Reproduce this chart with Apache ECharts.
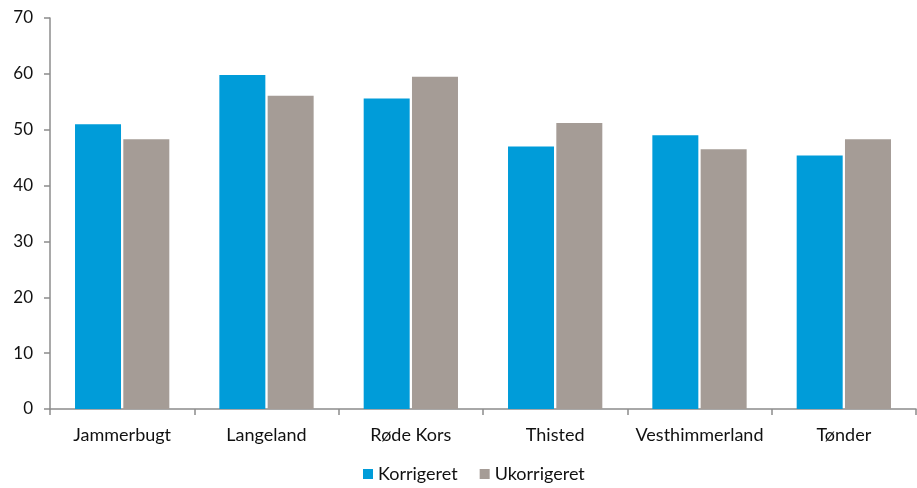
<!DOCTYPE html>
<html>
<head>
<meta charset="utf-8">
<script src="https://cdn.jsdelivr.net/npm/echarts@6/dist/echarts.min.js"></script>
<style>
  html, body { margin: 0; padding: 0; background: #fff; }
  #chart { width: 917px; height: 488px; }
</style>
</head>
<body>
<div id="chart"></div>
<script>
// Categories and the two series of values
const categories = ['Jammerbugt', 'Langeland', 'Røde Kors', 'Thisted', 'Vesthimmerland', 'Tønder'];
const korrigeret = [51.0, 59.8, 55.6, 47.0, 49.0, 45.4];
const ukorrigeret = [48.3, 56.1, 59.5, 51.2, 46.5, 48.3];
const yTicks = { min: 0, max: 70, interval: 10 };

const FONT = 'Lato, "Open Sans", sans-serif';
const AXIS_COLOR = '#8c8c8c';
const TEXT_COLOR = '#111';

const chart = echarts.init(document.getElementById('chart'), null, { renderer: 'canvas' });
chart.setOption({
  animation: false,
  backgroundColor: '#fff',
  textStyle: { fontFamily: FONT },
  grid: { left: 50, right: 1, top: 18, bottom: 79, containLabel: false },
  legend: {
    bottom: 0,
    left: 358,
    itemWidth: 10,
    itemHeight: 10,
    itemGap: 22,
    icon: 'rect',
    textStyle: { fontFamily: FONT, fontSize: 18, color: TEXT_COLOR },
    data: ['Korrigeret', 'Ukorrigeret']
  },
  xAxis: {
    type: 'category',
    data: categories,
    boundaryGap: true,
    axisLine: { lineStyle: { color: AXIS_COLOR, width: 1.5 } },
    axisTick: { show: true, interval: 0, length: 6, lineStyle: { color: AXIS_COLOR, width: 1.5 } },
    axisLabel: { interval: 0, fontFamily: FONT, fontSize: 18, color: TEXT_COLOR, margin: 17 }
  },
  yAxis: {
    type: 'value',
    min: yTicks.min,
    max: yTicks.max,
    interval: yTicks.interval,
    splitLine: { show: false },
    axisLine: { show: true, lineStyle: { color: AXIS_COLOR, width: 1.5 } },
    axisTick: { show: true, length: 6, lineStyle: { color: AXIS_COLOR, width: 1.5 } },
    axisLabel: { fontFamily: FONT, fontSize: 17, color: TEXT_COLOR, margin: 17 }
  },
  series: [
    {
      name: 'Korrigeret',
      type: 'bar',
      data: korrigeret,
      barWidth: 46,
      barGap: '5%',
      itemStyle: { color: '#009cd9' }
    },
    {
      name: 'Ukorrigeret',
      type: 'bar',
      data: ukorrigeret,
      barWidth: 46,
      barGap: '5%',
      itemStyle: { color: '#a59c96' }
    }
  ]
});
</script>
</body>
</html>
